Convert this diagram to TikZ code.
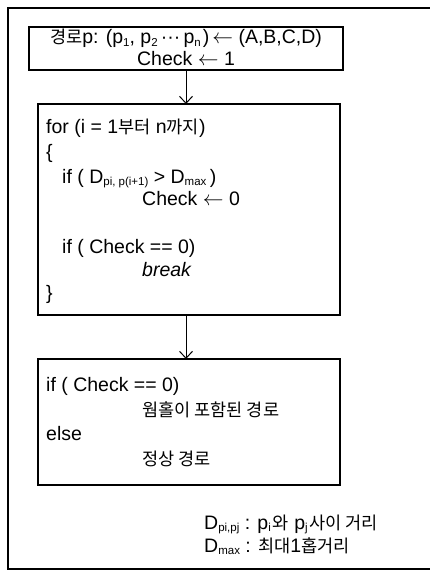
\documentclass[tikz,border=0pt]{standalone}
\usepackage{fontspec}
\setmainfont{Liberation Sans}
\newfontfamily\kr{Noto Sans CJK KR}[Scale=0.9]
\usetikzlibrary{arrows.meta}
\newcommand{\lowtxt}[1]{\raisebox{-0.25ex}{\fontsize{11.5}{11.5}\selectfont #1}}
\newcommand{\larr}{\ensuremath{\leftarrow}}
\begin{document}
\begin{tikzpicture}[x=1pt,y=-1pt,
  box/.style={draw, line width=1.4pt},
  txt/.style={anchor=base west, inner sep=0pt, font=\fontsize{19.5}{21}\selectfont},
  flow/.style={line width=1pt, -{Straight Barb[length=7pt,width=13pt,line width=1pt]}}]
\useasboundingbox (0,0) rectangle (430,572);
% outer frame
\draw[line width=2pt] (434,8) -- (8,8) -- (8,569) -- (434,569);
% boxes
\coordinate (b1nw) at (29,27); \coordinate (b1se) at (343,70);
\draw[box] (b1nw) rectangle (b1se);
\coordinate (b2nw) at (38,104); \coordinate (b2se) at (340,315);
\draw[box] (b2nw) rectangle (b2se);
\coordinate (b3nw) at (38,359); \coordinate (b3se) at (340,485);
\draw[box] (b3nw) rectangle (b3se);
\coordinate (a1s) at (186,70); \coordinate (a1e) at (186,104);
\coordinate (a2s) at (186,315); \coordinate (a2e) at (186,359);
\draw[flow] (a1s) -- (a1e);
\draw[flow] (a2s) -- (a2e);
% box 1 text
\node[txt, anchor=base] (t1) at (186,44) {{\kr 경로}p: (p\lowtxt{1}, p\lowtxt{2}\,···\,p\lowtxt{n}\kern2pt)\kern3pt\larr\ (A,B,C,D)};
\node[txt, anchor=base] (t2) at (186,66) {Check \larr\ 1};
% box 2 text
\node[txt] (t3) at (46,134) {for (i = 1{\kr 부터} n{\kr 까지})};
\node[txt] (t4) at (46,158) {\{};
\node[txt] (t5) at (62,183) {if ( D\lowtxt{pi, p(i+1)} > D\lowtxt{max}\kern3.5pt)};
\node[txt] (t6) at (142,205) {Check \larr\ 0};
\node[txt] (t7) at (62,253) {if ( Check == 0)};
\node[txt] (t8) at (142,276) {\itshape break};
\node[txt] (t9) at (46,299) {\}};
% box 3 text
\node[txt] (t10) at (46,391) {if ( Check == 0)};
\node[txt] (t11) at (142,416) {\kr 웜홀이 포함된 경로};
\node[txt] (t12) at (46,440) {else};
\node[txt] (t13) at (142,465) {\kr 정상 경로};
% notes
\node[txt] (t14) at (204,529) {D\lowtxt{pi,pj} : p\lowtxt{i\,}{\kr 와} p\lowtxt{j\,}{\kr 사이 거리}};
\node[txt] (t15) at (204,552) {D\lowtxt{max} : {\kr 최대}1{\kr 홉거리}};
\end{tikzpicture}
\end{document}
